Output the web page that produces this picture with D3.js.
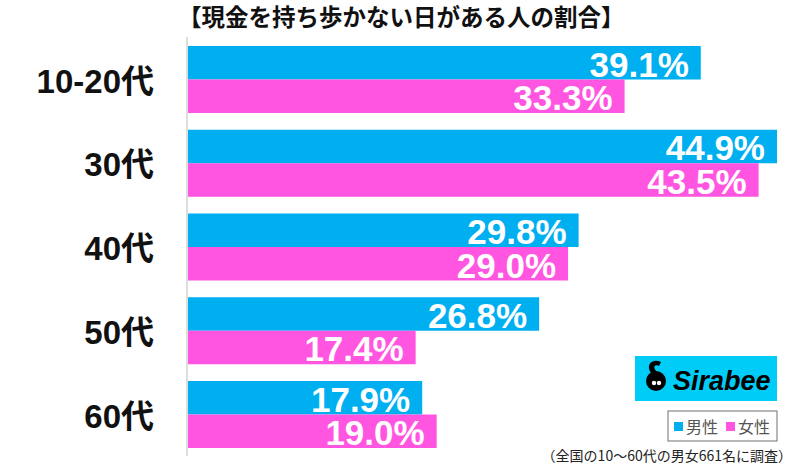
<!DOCTYPE html>
<html><head><meta charset="utf-8">
<script src="https://cdn.jsdelivr.net/npm/d3@7"></script>
<style>body{margin:0;background:#fff}svg{display:block}</style>
</head><body><svg id="c" width="800" height="466"></svg>
<script>
const title = "【現金を持ち歩かない日がある人の割合】";
const categories = ["10-20代", "30代", "40代", "50代", "60代"];
const seriesNames = ["男性", "女性"];
const male = [39.1, 44.9, 29.8, 26.8, 17.9];
const female = [33.3, 43.5, 29.0, 17.4, 19.0];
const colors = ["#00AFF0", "#FF55E1"];
const note = "（全国の10～60代の男女661名に調査）";

const svg = d3.select("#c");
const x0 = 187;
const x = d3.scaleLinear().domain([0, 44.9]).range([x0, 777]);
const y = d3.scaleBand().domain(categories).range([46, 448]).paddingInner(0.2).paddingOuter(0);
const ys = d3.scaleBand().domain(seriesNames).range([0, y.bandwidth()]);
const rows = categories.map((c, i) => ({c, vals: [male[i], female[i]]}));

svg.append("text").attr("x", 178).attr("y", 26)
  .attr("font-family", "'Noto Sans CJK JP'").attr("font-weight", 700).attr("font-size", 23.5)
  .attr("fill", "#111").text(title);

svg.append("line").attr("x1", x0).attr("x2", x0).attr("y1", 37).attr("y2", 456)
  .attr("stroke", "#ddd").attr("stroke-width", 2);

const g = svg.selectAll("g.row").data(rows).join("g").attr("class", "row")
  .attr("transform", d => `translate(0,${y(d.c)})`);

g.selectAll("rect").data(d => d.vals.map((v, k) => ({v, k})))
  .join("rect")
  .attr("x", x0 + 1).attr("y", d => ys(seriesNames[d.k]))
  .attr("width", d => x(d.v) - x0 - 1).attr("height", ys.bandwidth())
  .attr("fill", d => colors[d.k]);

g.selectAll("text.val").data(d => d.vals.map((v, k) => ({v, k})))
  .join("text").attr("class", "val")
  .attr("x", d => x(d.v) - 12).attr("y", d => ys(seriesNames[d.k]) + ys.bandwidth() - 3)
  .attr("text-anchor", "end")
  .attr("font-family", "'Liberation Sans', Arial, sans-serif").attr("font-weight", 700).attr("font-size", 35)
  .attr("fill", "#fff").text(d => d.v.toFixed(1) + "%");

svg.selectAll("text.cat").data(categories).join("text").attr("class", "cat")
  .attr("x", 154).attr("y", d => y(d) + y.bandwidth() / 2 + 13)
  .attr("text-anchor", "end")
  .attr("font-family", "'Liberation Sans', 'Noto Sans CJK JP', sans-serif").attr("font-weight", 700).attr("font-size", 33)
  .attr("fill", "#111").text(d => d);

// Sirabee logo
const logo = svg.append("g").attr("transform", "translate(635,356)");
logo.append("rect").attr("width", 142).attr("height", 45).attr("fill", "#00CCF8");
logo.append("circle").attr("cx", 21).attr("cy", 25).attr("r", 10).attr("fill", "#000");
logo.append("path").attr("d", "M16 17 C10 8, 18 2, 26 6 L24 10 C20 8, 17 11, 22 16 Z").attr("fill", "#000");
logo.append("circle").attr("cx", 19).attr("cy", 27).attr("r", 2.2).attr("fill", "#fff");
logo.append("circle").attr("cx", 24).attr("cy", 27).attr("r", 2.2).attr("fill", "#fff");
logo.append("text").attr("x", 38).attr("y", 34)
  .attr("font-family", "'Liberation Sans', Arial, sans-serif").attr("font-weight", 700).attr("font-style", "italic")
  .attr("font-size", 27).attr("fill", "#000").text("Sirabee");

// legend
const lg = svg.append("g").attr("transform", "translate(668,411)");
lg.append("rect").attr("width", 109).attr("height", 30).attr("fill", "#fff").attr("stroke", "#888").attr("stroke-width", 1.2);
seriesNames.forEach((s, i) => {
  lg.append("rect").attr("x", 6 + i * 52).attr("y", 11).attr("width", 9).attr("height", 9).attr("fill", colors[i]);
  lg.append("text").attr("x", 18 + i * 52).attr("y", 22)
    .attr("font-family", "'Noto Sans CJK JP'").attr("font-size", 16).attr("fill", "#555").text(s);
});

svg.append("text").attr("x", 792).attr("y", 461).attr("text-anchor", "end")
  .attr("font-family", "'Noto Sans CJK JP'").attr("font-size", 14).attr("fill", "#222").text(note);
</script></body></html>
